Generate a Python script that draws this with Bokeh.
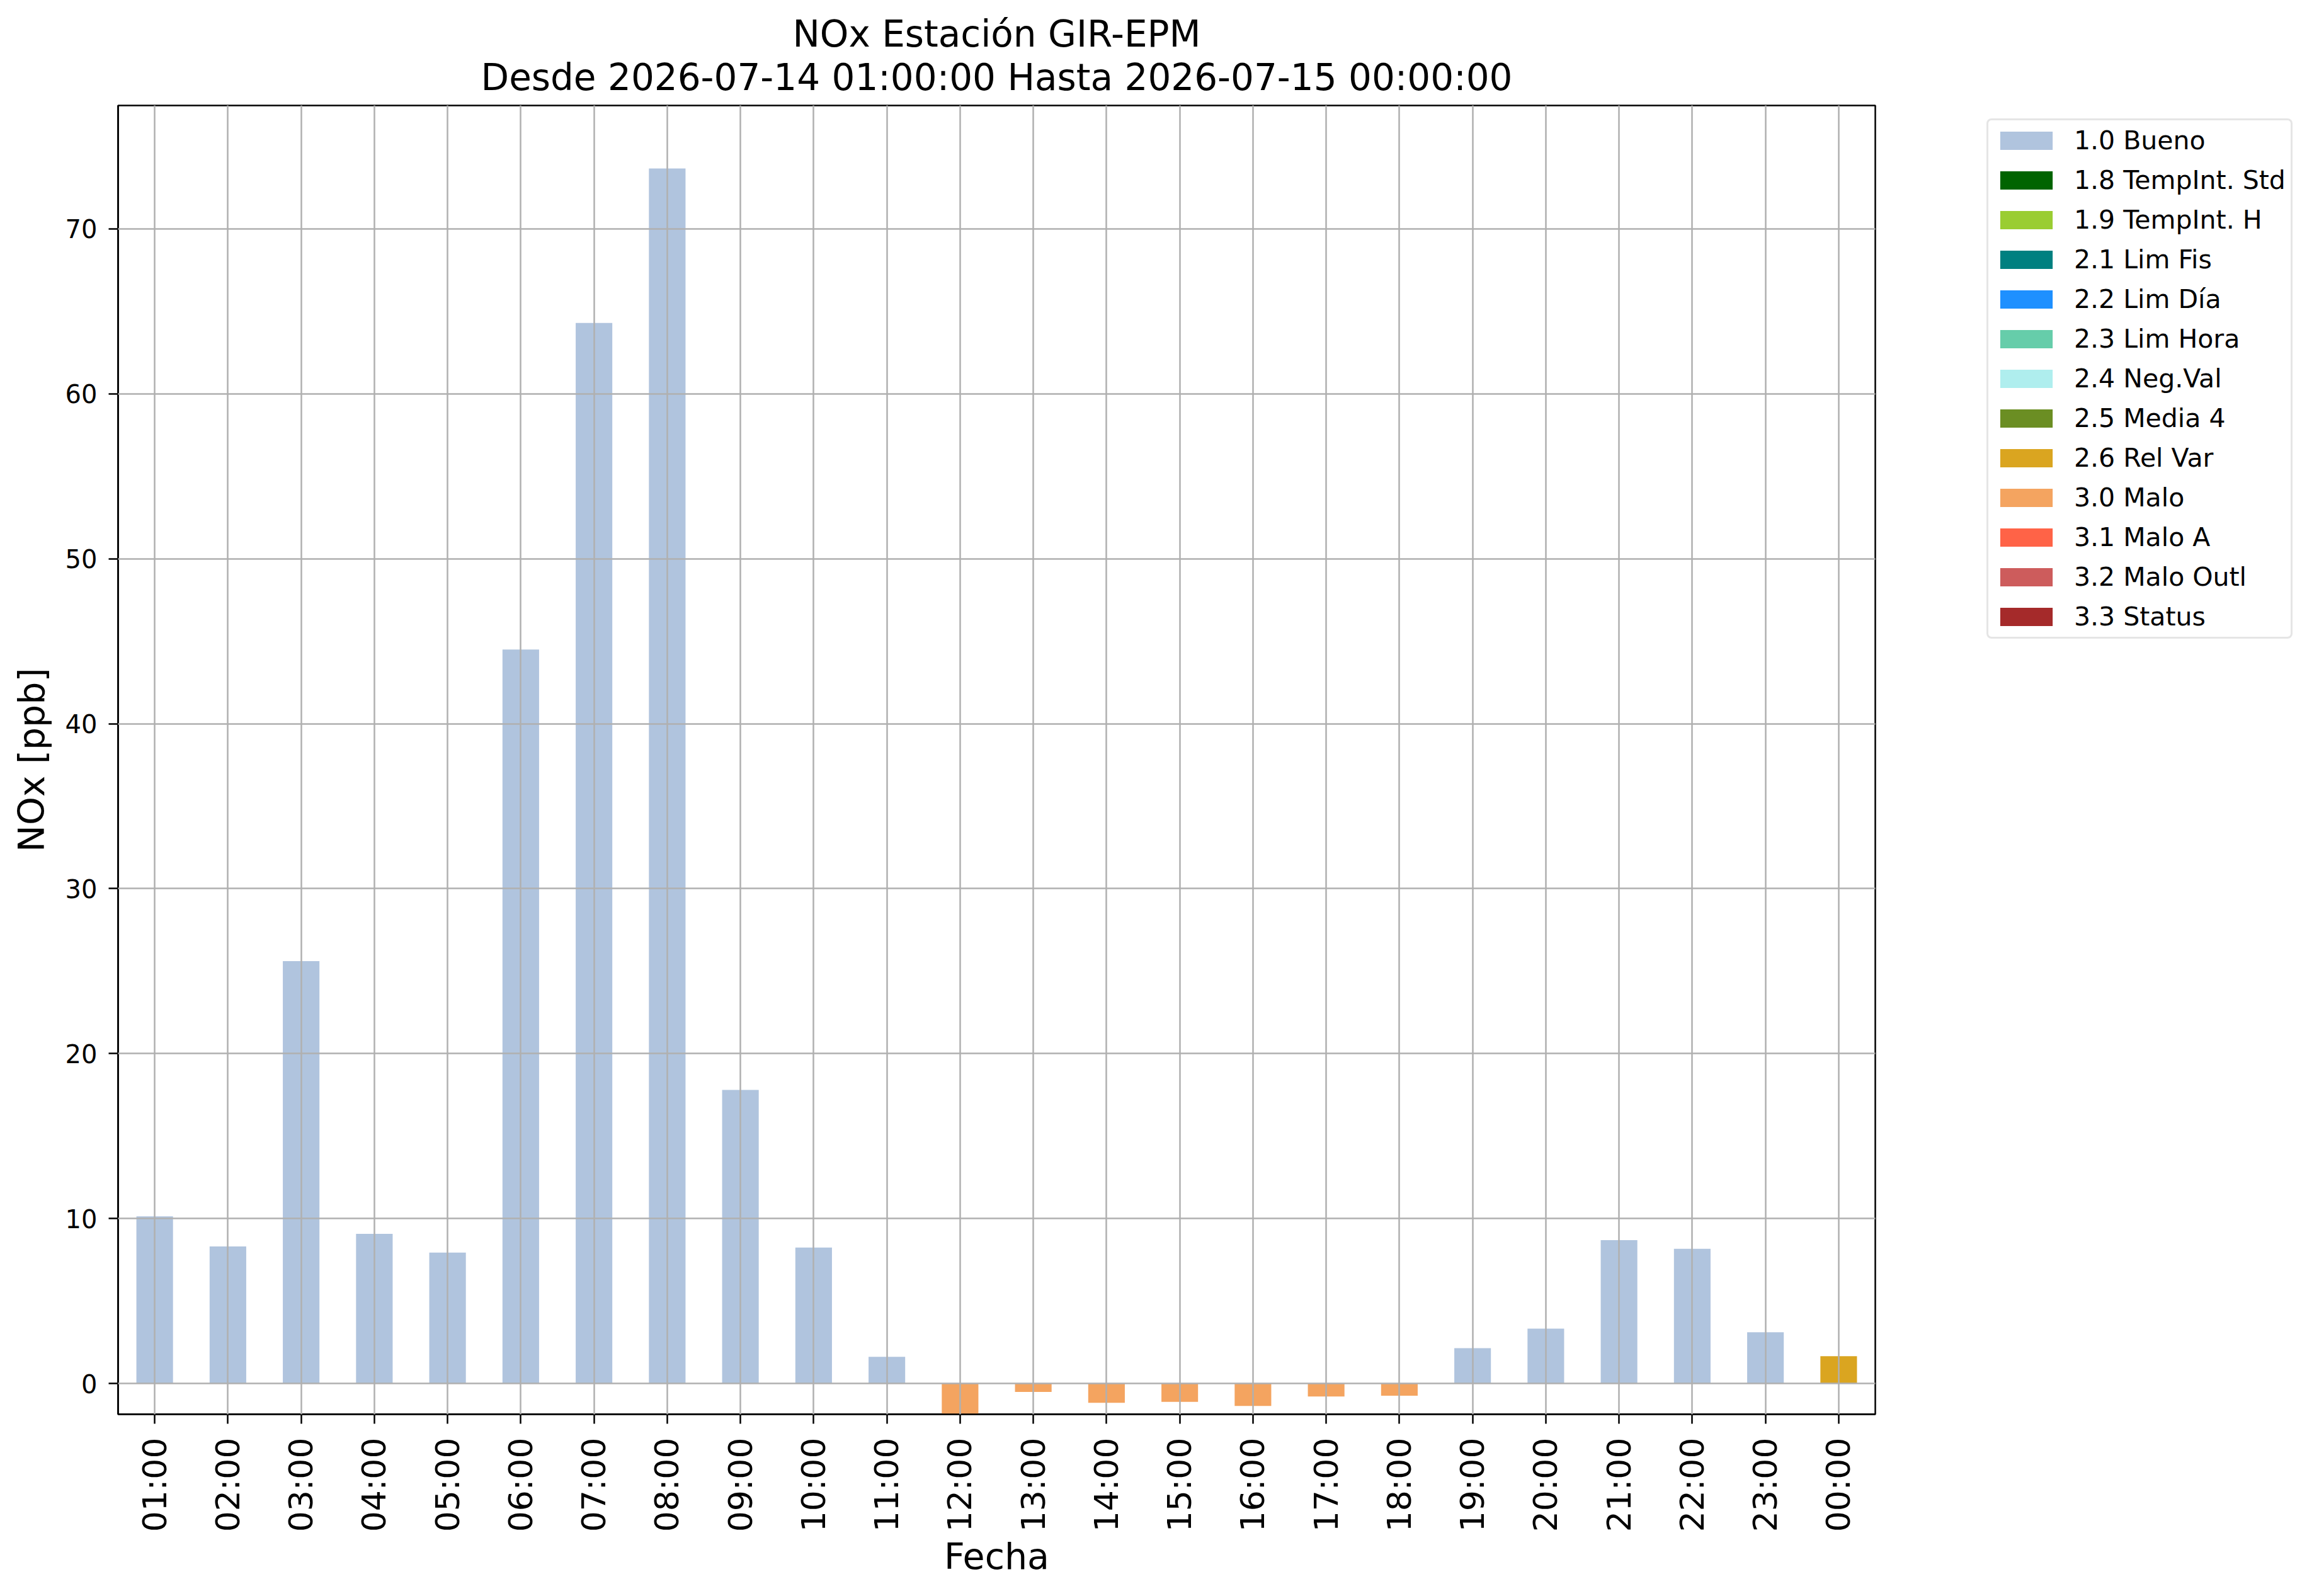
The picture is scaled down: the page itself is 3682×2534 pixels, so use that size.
import math
from bokeh.plotting import figure
from bokeh.layouts import row
from bokeh.models import Legend, LegendItem, Range1d, FixedTicker, FactorRange, Title
from bokeh.embed import file_html
from bokeh.resources import INLINE

# ---- data ----
hours = ["01:00", "02:00", "03:00", "04:00", "05:00", "06:00", "07:00", "08:00",
         "09:00", "10:00", "11:00", "12:00", "13:00", "14:00", "15:00", "16:00",
         "17:00", "18:00", "19:00", "20:00", "21:00", "22:00", "23:00", "00:00"]
nox = [10.13, 8.31, 25.6, 9.07, 7.93, 44.5, 64.3, 73.66,
       17.8, 8.24, 1.61, -1.9, -0.51, -1.17, -1.12, -1.36,
       -0.79, -0.74, 2.14, 3.32, 8.69, 8.16, 3.10, 1.65]
flags = ["1.0", "1.0", "1.0", "1.0", "1.0", "1.0", "1.0", "1.0",
         "1.0", "1.0", "1.0", "3.0", "3.0", "3.0", "3.0", "3.0",
         "3.0", "3.0", "1.0", "1.0", "1.0", "1.0", "1.0", "2.6"]
flag_codes = ["1.0", "1.8", "1.9", "2.1", "2.2", "2.3", "2.4", "2.5", "2.6", "3.0", "3.1", "3.2", "3.3"]
flag_labels = ["1.0 Bueno", "1.8 TempInt. Std", "1.9 TempInt. H", "2.1 Lim Fis", "2.2 Lim Día",
               "2.3 Lim Hora", "2.4 Neg.Val", "2.5 Media 4", "2.6 Rel Var", "3.0 Malo",
               "3.1 Malo A", "3.2 Malo Outl", "3.3 Status"]
flag_colors = ["#B0C4DE", "#006400", "#9ACD32", "#008080", "#1E90FF", "#66CDAA", "#AFEEEE",
               "#6B8E23", "#DAA520", "#F4A460", "#FF6347", "#CD5C5C", "#A52A2A"]
y_ticks = [0, 10, 20, 30, 40, 50, 60, 70]
title_lines = ["NOx Estación GIR-EPM", "Desde 2026-07-14 01:00:00 Hasta 2026-07-15 00:00:00"]

FONT = "DejaVu Sans"
H = 2518
FRAME_BOTTOM = 2245

p = figure(x_range=FactorRange(*hours), y_range=Range1d(-1.87, 77.48), title=None,
           width=2982, height=H, output_backend="svg", toolbar_location=None,
           min_border_left=187, min_border_right=5, min_border_top=167,
           min_border_bottom=H - FRAME_BOTTOM)
p.background_fill_color = "white"
p.border_fill_color = "white"
p.outline_line_color = "black"
p.outline_line_width = 2.5

# two centred title lines (added nearest-first)
for txt, so in zip(reversed(title_lines), (21, -22)):
    t = Title(text=txt, align="center", text_font=FONT, text_font_size="58px",
              text_font_style="normal", text_color="black", standoff=so)
    p.add_layout(t, "above")

for code, col in zip(flag_codes, flag_colors):
    xs = [h for h, f in zip(hours, flags) if f == code]
    ys = [v for v, f in zip(nox, flags) if f == code]
    if xs:
        p.vbar(x=xs, top=ys, bottom=0, width=0.5, fill_color=col, line_color=None)

# grid over the bars
for g in (p.xgrid, p.ygrid):
    g.grid_line_color = "#b0b0b0"
    g.grid_line_width = 2.5
    g.level = "guide"
p.ygrid.ticker = FixedTicker(ticks=y_ticks)

p.yaxis.ticker = FixedTicker(ticks=y_ticks)
p.yaxis.minor_tick_line_color = None

for ax in (p.xaxis, p.yaxis):
    ax.axis_line_color = "black"
    ax.axis_line_width = 2.5
    ax.major_tick_line_color = "black"
    ax.major_tick_line_width = 2.5
    ax.major_tick_out = 15
    ax.major_tick_in = 0
    ax.major_label_text_font = FONT
    ax.major_label_text_color = "black"
    ax.axis_label_text_font = FONT
    ax.axis_label_text_font_style = "normal"
    ax.axis_label_text_font_size = "57px"
    ax.axis_label_text_color = "black"

p.xaxis.axis_label = "Fecha"
p.yaxis.axis_label = "NOx [ppb]"
p.xaxis.major_label_text_font_size = "52px"
p.yaxis.major_label_text_font_size = "40px"
p.xaxis.major_label_orientation = math.pi / 2
p.xaxis.major_label_standoff = 22
p.yaxis.major_label_standoff = 18
p.xaxis.axis_label_standoff = 3
p.yaxis.axis_label_standoff = 18

# ---- legend panel (flag categories) ----
lp = figure(width=3666 - 2982, height=H, output_backend="svg", toolbar_location=None,
            x_range=Range1d(0, 1), y_range=Range1d(0, 1), x_axis_type=None, y_axis_type=None,
            min_border=0, title=None)
lp.outline_line_color = None
lp.xgrid.visible = False
lp.ygrid.visible = False
lp.background_fill_color = "white"
lp.border_fill_color = "white"

items = []
for lab, col in zip(flag_labels, flag_colors):
    r = lp.vbar(x=[0.5], top=[float("nan")], bottom=0, width=0.5,
                fill_color=col, line_color=None)
    items.append(LegendItem(label=lab, renderers=[r]))

# frames of the row are aligned: place legend bottom-left relative to the frame
legend = Legend(items=items, location=(172, FRAME_BOTTOM - 1014))
legend.margin = 0
legend.label_text_font = FONT
legend.label_text_font_size = "41px"
legend.label_text_color = "black"
legend.glyph_width = 104
legend.glyph_height = 36
legend.label_height = 48
legend.label_standoff = 24
legend.spacing = 15
legend.padding = 8
legend.border_line_color = "#cccccc"
legend.border_line_width = 3
legend.border_radius = 8
legend.background_fill_color = "white"
legend.background_fill_alpha = 0.8
lp.add_layout(legend, "center")

layout = row(p, lp)
open("out.html", "w").write(file_html(layout, INLINE))
